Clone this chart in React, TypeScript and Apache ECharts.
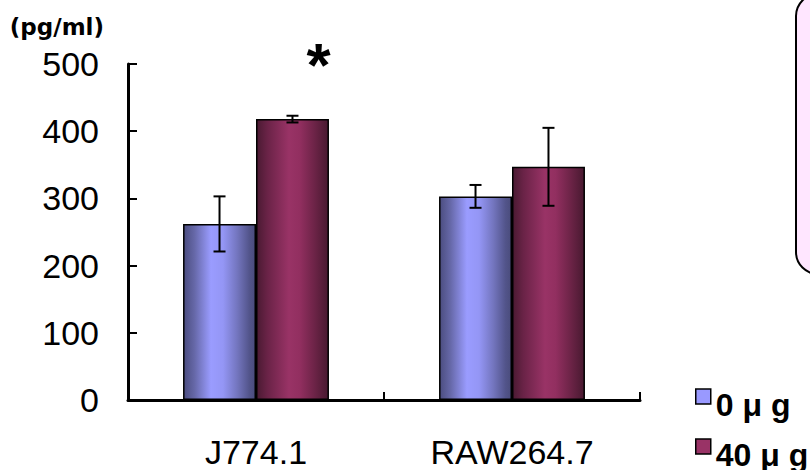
import React, { useEffect, useRef } from "react";
import * as echarts from "echarts";

const categories = ["J774.1", "RAW264.7"];
const seriesNames = ["0 μ g", "40 μ g"];
const control = [262, 303];
const controlErr = [41, 17];
const treated = [418, 347];
const treatedErr = [5, 58];
const significance = ["*", ""];
const yTicks = [0, 100, 200, 300, 400, 500];
const yUnit = "(pg/ml)";
const legendColors = ["#9999ff", "#993366"];

const BAR_FRAC = 0.285;
const FONT = "'Liberation Sans', Arial, sans-serif";

const blueGrad = new echarts.graphic.LinearGradient(0, 0, 1, 0, [
  { offset: 0, color: "#4b4d80" },
  { offset: 0.15, color: "#6668a8" },
  { offset: 0.38, color: "#9a9cff" },
  { offset: 0.55, color: "#9496f5" },
  { offset: 0.75, color: "#7375be" },
  { offset: 0.92, color: "#52548a" },
  { offset: 1, color: "#4a4c7c" },
]);
const redGrad = new echarts.graphic.LinearGradient(0, 0, 1, 0, [
  { offset: 0, color: "#4a1a32" },
  { offset: 0.15, color: "#6a2347" },
  { offset: 0.45, color: "#993366" },
  { offset: 0.6, color: "#922f60" },
  { offset: 0.8, color: "#6e2448" },
  { offset: 1, color: "#481930" },
]);

export default function App() {
  const ref = useRef<HTMLDivElement>(null);
  useEffect(() => {
    if (!ref.current) return;
    const chart = echarts.init(ref.current, null, { renderer: "svg" });

    const errData: number[][] = [];
    categories.forEach((_, i) => {
      errData.push([i, control[i], controlErr[i], -1]);
      errData.push([i, treated[i], treatedErr[i], 1]);
    });
    const sigData = categories
      .map((_, i) => [i, treated[i] + treatedErr[i], significance[i] ? 1 : 0])
      .filter((d) => d[2] === 1);

    const legendTops = [372, 422];
    const legends = seriesNames.map((n, i) => ({
      orient: "vertical",
      left: 695,
      top: legendTops[i],
      padding: 0,
      itemWidth: 15,
      itemHeight: 15,
      itemGap: 0,
      selectedMode: false,
      formatter: (name: string) => "\n" + name,
      textStyle: {
        fontSize: 32,
        lineHeight: 17,
        fontWeight: "bold",
        color: "#000",
        fontFamily: FONT,
      },
      data: [
        {
          name: n,
          icon: "rect",
          itemStyle: { color: legendColors[i], borderColor: "#000", borderWidth: 1.5 },
        },
      ],
    }));

    chart.setOption({
      animation: false,
      backgroundColor: "#ffffff",
      graphic: [
        {
          type: "rect",
          shape: { x: 796, y: -6, width: 60, height: 280, r: 22 },
          style: { fill: "#ffe6ff", stroke: "#000", lineWidth: 2 },
          z: 0,
        },
      ],
      grid: { left: 128, right: 170, top: 64, bottom: 70, containLabel: false },
      legend: legends,
      xAxis: {
        type: "category",
        data: categories,
        axisLine: { lineStyle: { color: "#000", width: 3 } },
        axisTick: { show: true, inside: true, length: 8, lineStyle: { color: "#000", width: 2 } },
        axisLabel: { fontSize: 34, color: "#000", fontFamily: FONT, margin: 35 },
      },
      yAxis: {
        type: "value",
        min: yTicks[0],
        max: yTicks[yTicks.length - 1],
        interval: 100,
        name: yUnit,
        nameLocation: "end",
        nameGap: 26,
        nameTextStyle: {
          fontSize: 23,
          fontWeight: "bold",
          color: "#000",
          fontFamily: "'DejaVu Sans', sans-serif",
          align: "right",
          padding: [0, 24, 0, 0],
        },
        splitLine: { show: false },
        axisLine: { show: true, lineStyle: { color: "#000", width: 3 } },
        axisTick: { show: true, inside: true, length: 9, lineStyle: { color: "#000", width: 2 } },
        axisLabel: { fontSize: 34, color: "#000", fontFamily: FONT, margin: 29 },
      },
      series: [
        {
          name: seriesNames[0],
          type: "bar",
          data: control,
          barWidth: (BAR_FRAC * 100).toFixed(1) + "%",
          barGap: "0%",
          itemStyle: { color: blueGrad, borderColor: "#000", borderWidth: 1.5 },
        },
        {
          name: seriesNames[1],
          type: "bar",
          data: treated,
          barWidth: (BAR_FRAC * 100).toFixed(1) + "%",
          barGap: "0%",
          itemStyle: { color: redGrad, borderColor: "#000", borderWidth: 1.5 },
        },
        {
          type: "custom",
          z: 5,
          data: errData,
          renderItem: (params: any, api: any) => {
            const x = api.value(0);
            const y = api.value(1);
            const e = api.value(2);
            const side = api.value(3);
            const band = api.size([1, 0])[0];
            const bw = band * BAR_FRAC;
            const cx = api.coord([x, y])[0] + (side * bw) / 2;
            const top = api.coord([x, y + e])[1];
            const bot = api.coord([x, y - e])[1];
            const cap = 6;
            const st = { stroke: "#000", lineWidth: 2 };
            return {
              type: "group",
              children: [
                { type: "line", shape: { x1: cx, y1: top, x2: cx, y2: bot }, style: st },
                { type: "line", shape: { x1: cx - cap, y1: top, x2: cx + cap, y2: top }, style: st },
                { type: "line", shape: { x1: cx - cap, y1: bot, x2: cx + cap, y2: bot }, style: st },
              ],
            };
          },
        },
        {
          type: "custom",
          z: 6,
          data: sigData,
          renderItem: (params: any, api: any) => {
            const x = api.value(0);
            const y = api.value(1);
            const band = api.size([1, 0])[0];
            const bw = band * BAR_FRAC;
            const pt = api.coord([x, y]);
            return {
              type: "text",
              x: pt[0] + bw / 2 + 26,
              y: pt[1] - 51,
              style: {
                text: "*",
                fontSize: 62,
                fontWeight: "bold",
                fontFamily: FONT,
                fill: "#000",
                align: "center",
                verticalAlign: "middle",
              },
            };
          },
        },
      ],
    });
    return () => chart.dispose();
  }, []);
  return <div ref={ref} style={{ width: 810, height: 470, position: "absolute", left: 0, top: 0 }} />;
}
